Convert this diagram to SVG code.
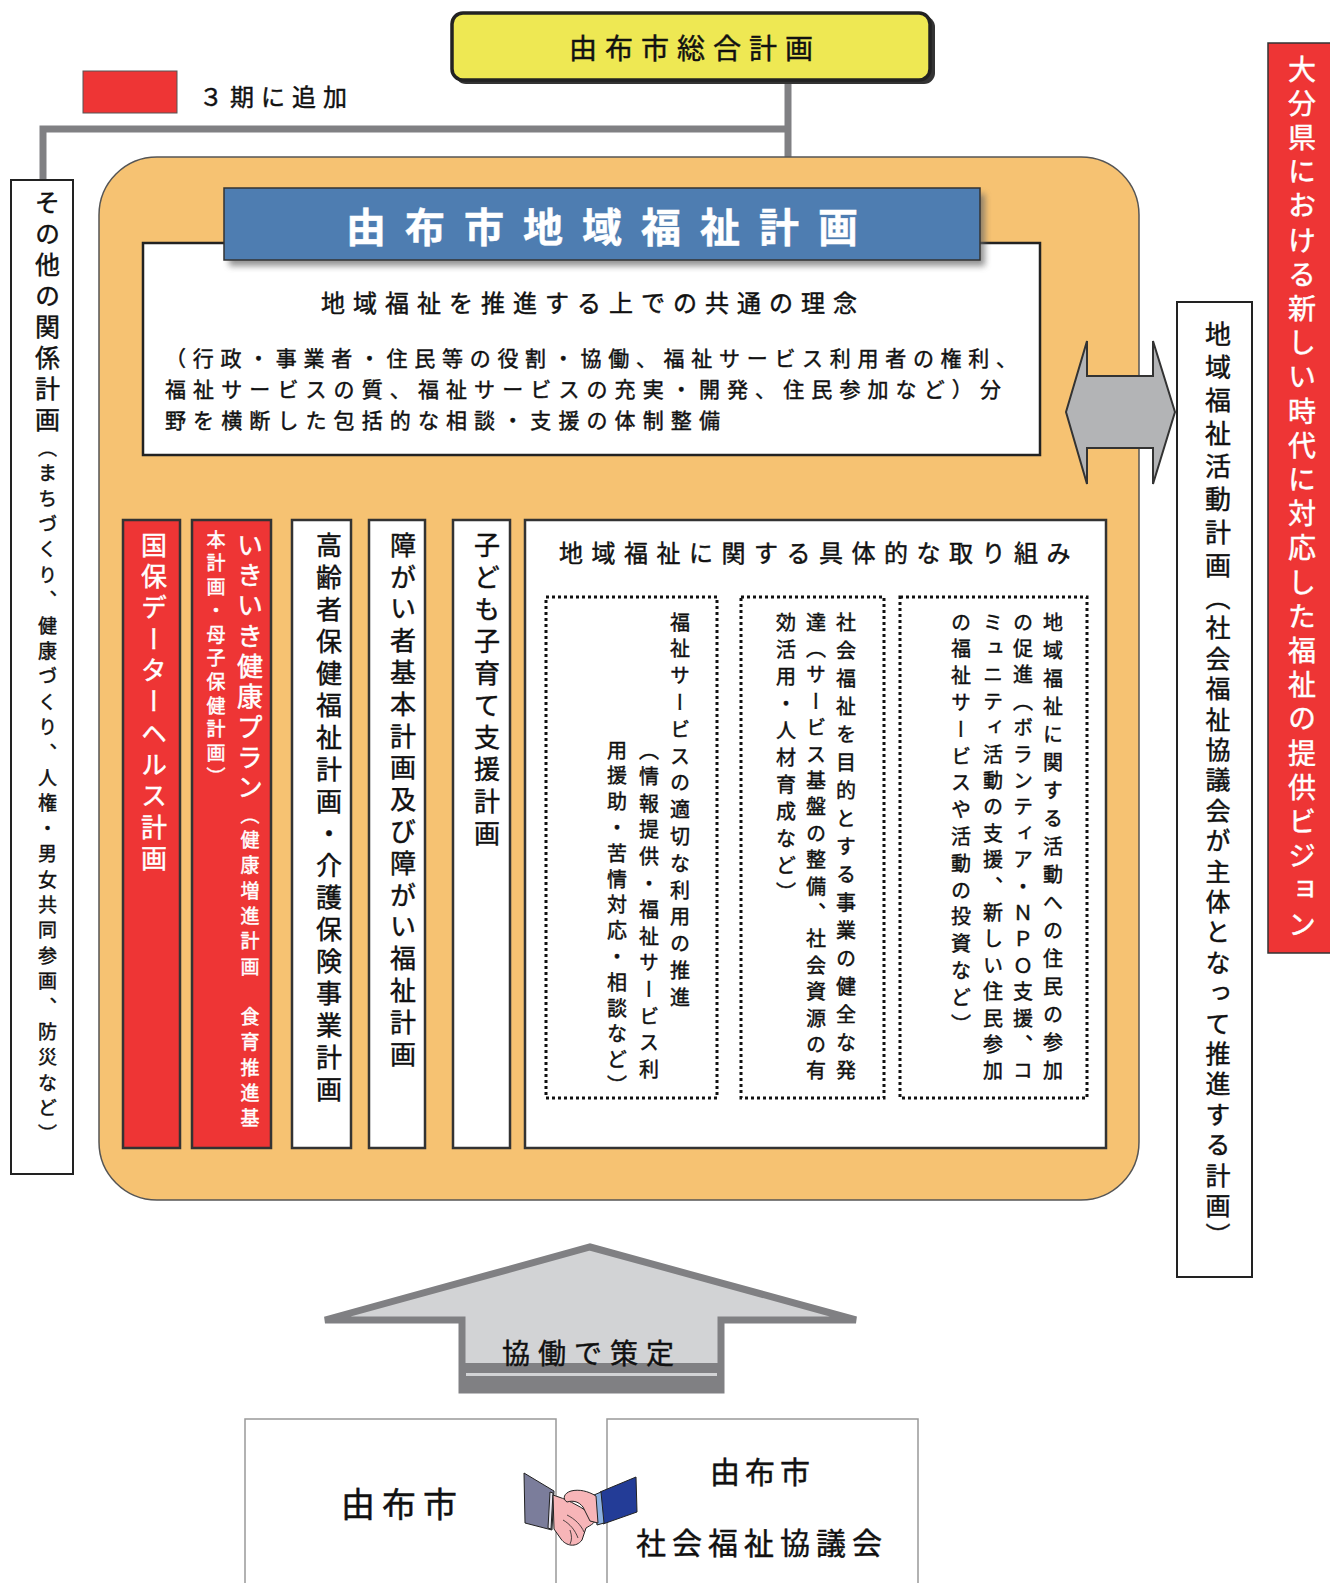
<svg xmlns="http://www.w3.org/2000/svg" width="1330" height="1583" viewBox="0 0 1330 1583">
<style>
text{font-family:"Noto Sans CJK JP","Noto Sans",sans-serif;fill:#111;stroke:#111;stroke-width:0.45;}
.v{writing-mode:vertical-rl;}
.w{fill:#fff;stroke:#fff;}
.col{fill:#fff;stroke:#333;stroke-width:2.5;}
.red{fill:#EE3535;stroke:#333;stroke-width:2.5;}
.dot{fill:none;stroke:#111;stroke-width:3;stroke-dasharray:3 3;}
.con{stroke:#808083;stroke-width:7;fill:none;}
.dt{font-size:20px;}
</style>
<defs>
<filter id="sh" x="-10%" y="-30%" width="120%" height="170%">
<feGaussianBlur stdDeviation="3"/>
</filter>
</defs>
<rect width="1330" height="1583" fill="#fff"/>

<!-- connectors -->
<g id="connectors">
<path class="con" d="M788,81 V157 M788,129 H43 V180"/>
<path class="con" d="M613,455 V490 M152,490 H934 M152,487 V520 M222,490 V520 M320,490 V520 M394,490 V520 M479,490 V520 M934,487 V520"/>
</g>

<!-- top plan -->
<g id="sogo">
<rect x="455" y="16" width="480" height="68" rx="11" fill="#333"/>
<rect x="452" y="13" width="478" height="67" rx="11" fill="#EEE853" stroke="#222" stroke-width="3.5"/>
<text x="569" y="59" font-size="28" letter-spacing="8">由布市総合計画</text>
</g>

<g id="legend">
<rect x="83" y="71" width="94" height="42" fill="#EE3535" stroke="#555" stroke-width="1"/>
<text x="199" y="106" font-size="24" letter-spacing="7">３期に追加</text>
</g>

<!-- other plans -->
<g id="other">
<rect x="11" y="180" width="62" height="994" fill="#fff" stroke="#222" stroke-width="2"/>
<text class="v" x="47.5" y="190" font-size="25" letter-spacing="6">その他の関係計画<tspan font-size="19" letter-spacing="6.4">（まちづくり、健康づくり、人権・男女共同参画、防災など）</tspan></text>
</g>

<!-- main orange -->
<g id="main">
<rect x="99" y="157" width="1040" height="1043" rx="58" fill="#F6C272" stroke="#555" stroke-width="1.5"/>
</g>

<g id="rinen">
<rect x="143" y="243" width="897" height="212" fill="#fff" stroke="#222" stroke-width="2.5"/>
<text x="321" y="312" font-size="24" letter-spacing="8">地域福祉を推進する上での共通の理念</text>
<text x="165" y="366" font-size="21" letter-spacing="6.7">（行政・事業者・住民等の役割・協働、福祉サービス利用者の権利、</text>
<text x="165" y="397" font-size="21" letter-spacing="7.1">福祉サービスの質、福祉サービスの充実・開発、住民参加など）分</text>
<text x="165" y="428" font-size="21" letter-spacing="7.1">野を横断した包括的な相談・支援の体制整備</text>
</g>

<g id="title">
<rect x="229" y="194" width="756" height="72" fill="#666" opacity="0.7" filter="url(#sh)"/>
<rect x="224" y="188" width="756" height="72" fill="#4E7DB1" stroke="#333" stroke-width="1.5"/>
<text class="w" x="346" y="242" font-size="40" font-weight="bold" letter-spacing="19">由布市地域福祉計画</text>
</g>

<g id="kokuho">
<rect class="red" x="123" y="520" width="57" height="628"/>
<text class="v w" x="154" y="532" font-size="26" letter-spacing="5.3">国保データーヘルス計画</text>
</g>

<g id="ikiiki">
<rect class="red" x="192" y="520" width="79" height="628"/>
<text class="v w" x="250" y="532" font-size="26" letter-spacing="4.3">いきいき健康プラン<tspan font-size="19" letter-spacing="6.3">（健康増進計画　食育推進基</tspan></text>
<text class="v w" x="216" y="530" font-size="19" letter-spacing="4.7">本計画・母子保健計画）</text>
</g>

<g id="koreisha">
<rect class="col" x="292" y="520" width="59" height="628"/>
<text class="v" x="329" y="532" font-size="26" letter-spacing="6">高齢者保健福祉計画・介護保険事業計画</text>
</g>

<g id="shogai">
<rect class="col" x="369" y="520" width="56" height="628"/>
<text class="v" x="403" y="532" font-size="26" letter-spacing="5.8">障がい者基本計画及び障がい福祉計画</text>
</g>

<g id="kodomo">
<rect class="col" x="453" y="520" width="57" height="628"/>
<text class="v" x="487" y="532" font-size="26" letter-spacing="6">子ども子育て支援計画</text>
</g>

<g id="torikumi">
<rect class="col" x="525" y="520" width="581" height="628"/>
<text x="559" y="562" font-size="24" letter-spacing="8.5">地域福祉に関する具体的な取り組み</text>
<rect class="dot" x="546" y="597" width="171" height="501"/>
<rect class="dot" x="741" y="597" width="143" height="501"/>
<rect class="dot" x="900" y="597" width="187" height="501"/>
<text class="v dt" x="1053" y="612" letter-spacing="8">地域福祉に関する活動への住民の参加</text>
<text class="v dt" x="1023" y="612" letter-spacing="6.4">の促進（ボランティア・ＮＰＯ支援、コ</text>
<text class="v dt" x="993" y="612" letter-spacing="6.4">ミュニティ活動の支援、新しい住民参加</text>
<text class="v dt" x="961" y="612" letter-spacing="6.8">の福祉サービスや活動の投資など）</text>
<text class="v dt" x="846" y="612" letter-spacing="8">社会福祉を目的とする事業の健全な発</text>
<text class="v dt" x="816" y="612" letter-spacing="6.4">達（サービス基盤の整備、社会資源の有</text>
<text class="v dt" x="786" y="612" letter-spacing="7">効活用・人材育成など）</text>
<text class="v dt" x="680" y="612" letter-spacing="6.8">福祉サービスの適切な利用の推進</text>
<text class="v dt" x="649" y="740" letter-spacing="6.6">（情報提供・福祉サービス利</text>
<text class="v dt" x="617" y="740" letter-spacing="5.8">用援助・苦情対応・相談など）</text>
</g>

<g id="doublearrow">
<path d="M1066,412 L1087,341 V376 H1153 V341 L1175,412 L1153,484 V448 H1087 V484 Z" fill="#B3B4B6" stroke="#333" stroke-width="2"/>
</g>

<g id="katsudo">
<rect x="1177" y="302" width="75" height="975" fill="#fff" stroke="#222" stroke-width="2"/>
<text class="v" x="1218" y="321" font-size="26" letter-spacing="7" stroke-width="0.9">地域福祉活動計画<tspan font-size="25" letter-spacing="5.4" stroke-width="0.45">（社会福祉協議会が主体となって推進する計画）</tspan></text>
</g>

<g id="oita">
<rect x="1268" y="43" width="66" height="910" fill="#EE3535" stroke="#333" stroke-width="1.5"/>
<text class="v w" x="1302" y="55" font-size="28" letter-spacing="6.2">大分県における新しい時代に対応した福祉の提供ビジョン</text>
</g>

<g id="kyodo">
<path d="M590,1247 L856,1320 H721 V1390 H462 V1320 H325 Z" fill="#D2D3D5" stroke="#808083" stroke-width="7" stroke-linejoin="miter"/>
<rect x="462" y="1363" width="259" height="28" fill="#808083"/>
<rect x="466" y="1373" width="251" height="3" fill="#D2D3D5"/>
<text x="502" y="1364" font-size="28" letter-spacing="8">協働で策定</text>
</g>

<g id="city">
<rect x="245" y="1419" width="311" height="180" fill="#fff" stroke="#999" stroke-width="1.5"/>
<text x="341" y="1517" font-size="34" letter-spacing="7">由布市</text>
</g>

<g id="shakyo">
<rect x="607" y="1419" width="311" height="180" fill="#fff" stroke="#999" stroke-width="1.5"/>
<text x="710" y="1483" font-size="30" letter-spacing="5">由布市</text>
<text x="636" y="1554" font-size="30" letter-spacing="6">社会福祉協議会</text>
</g>

<g id="handshake" stroke="#222" stroke-width="1">
<path d="M524,1473 L554,1491 L552,1530 L525,1523 Z" fill="#7B7D9B"/>
<path d="M550,1492 L553,1493 L551,1529 L548,1528 Z" fill="#E6E6F0"/>
<path d="M636,1477 L600,1492 L603,1524 L637,1512 Z" fill="#233C97"/>
<path d="M594,1495 L601,1492 L604,1523 L597,1525 Z" fill="#8BB0E0"/>
<path d="M553,1495 C566,1499 578,1505 588,1512 L596,1517 C597,1522 591,1525 586,1528 L582,1540 C576,1548 566,1546 561,1539 L554,1529 Z" fill="#F7B5B8"/>
<path d="M596,1496 C588,1491 579,1489 571,1491 C564,1493 562,1499 567,1502 C574,1500 579,1502 583,1507 L590,1521 L598,1523 Z" fill="#F7B5B8"/>
<path d="M563,1520 C570,1524 575,1530 578,1538 M567,1515 C575,1519 581,1525 584,1532 M570,1530 C572,1536 572,1540 570,1544" fill="none" stroke-width="0.8"/>
</g>
</svg>
